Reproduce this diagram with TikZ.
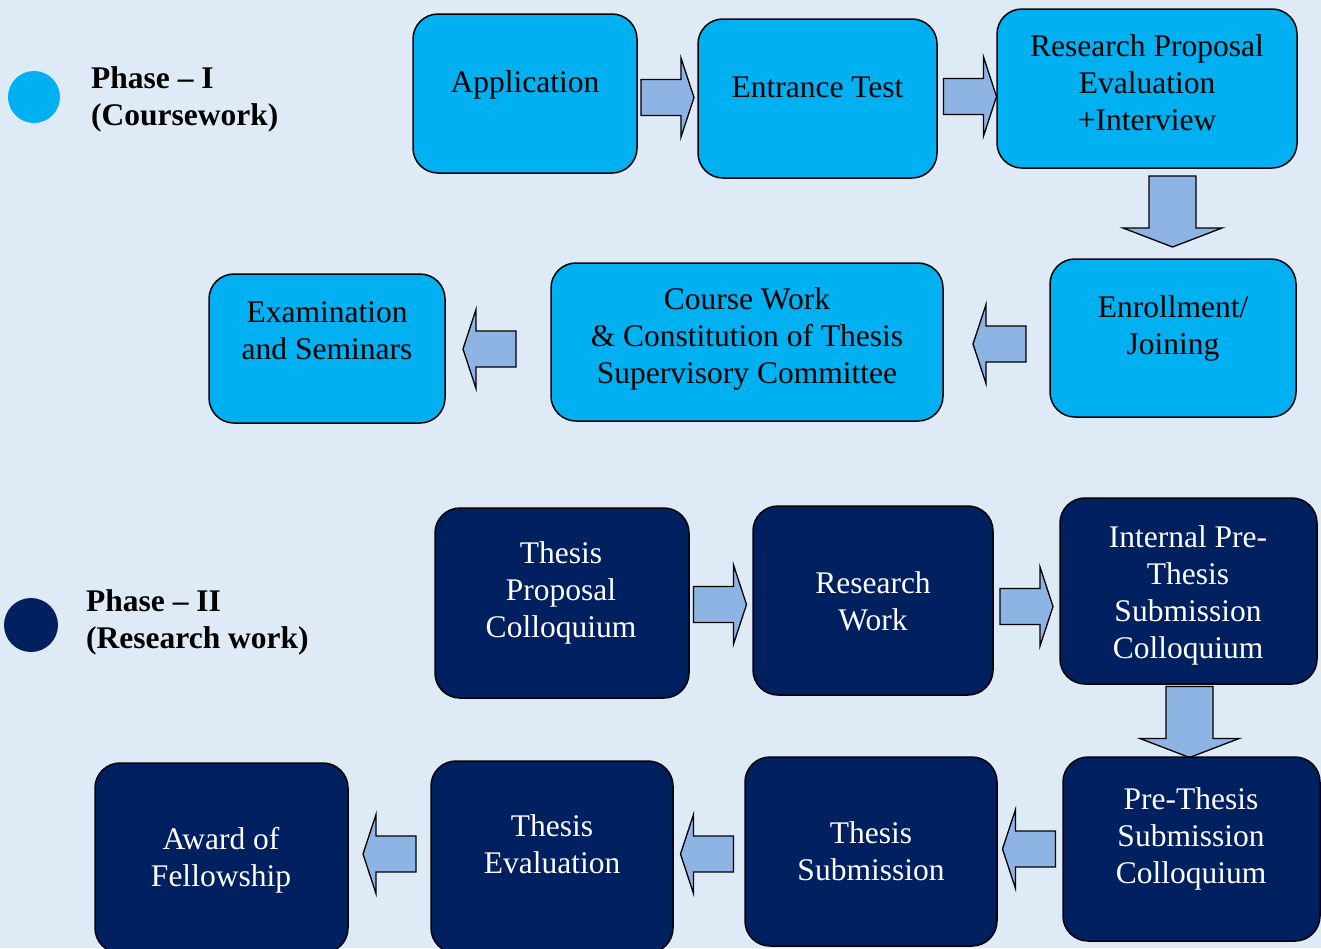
\documentclass[tikz,border=0pt]{standalone}
\usepackage{fontspec}
\setmainfont{Liberation Serif}
\definecolor{bgc}{HTML}{DEEBF7}
\definecolor{lightb}{HTML}{00B0F0}
\definecolor{darkb}{HTML}{002060}
\definecolor{arrc}{HTML}{8EB4E3}
\newcommand\harr[2]{\draw[barrow,shift={(#1)},rotate=#2]
  (-26.5,-18) -- (13.5,-18) -- (13.5,-39.5) -- (26.5,0) -- (13.5,39.5) -- (13.5,18) -- (-26.5,18) -- cycle;}
\newcommand\varr[1]{\draw[barrow,shift={(#1)}]
  (-23.5,-35.5) -- (-23.5,16.5) -- (-49.5,16.5) -- (0,35.5) -- (49.5,16.5) -- (23.5,16.5) -- (23.5,-35.5) -- cycle;}
\begin{document}
\begin{tikzpicture}[x=1pt,y=-1pt,
  box/.style={draw=black,line width=1.5pt,rounded corners=25pt,inner sep=0pt},
  lbox/.style={box,fill=lightb},
  dbox/.style={box,fill=darkb},
  txt/.style={font=\fontsize{31.5}{37}\selectfont,align=center,inner sep=0pt},
  ltxt/.style={txt,text=black},
  dtxt/.style={txt,text=white},
  barrow/.style={draw=black,line width=1.3pt,fill=arrc,line join=miter},
  phase/.style={font=\fontsize{31.5}{37}\selectfont\bfseries,align=left,anchor=west,inner sep=0pt}
]
\fill[bgc] (0,0) rectangle (1321,948);
\useasboundingbox (0,0) rectangle (1321,948);

% legend
\fill[lightb] (34,97) circle (26pt);
\node[phase] (p1) at (91,99) {Phase -- I\\(Coursework)};
\fill[darkb] (31,625) circle (27pt);
\node[phase] (p2) at (86,622) {Phase -- II\\(Research work)};

% row 1
\node[lbox,minimum width=224pt,minimum height=159pt] (app) at (525,93.5) {};
\node[ltxt] (appt) at (525,85) {Application};
\node[lbox,minimum width=239pt,minimum height=159pt] (ent) at (817.5,98.5) {};
\node[ltxt] (entt) at (817.5,87) {Entrance Test};
\node[lbox,minimum width=300pt,minimum height=159pt] (rpe) at (1147,88.5) {};
\node[ltxt] (rpet) at (1147,83) {Research Proposal\\Evaluation\\+Interview};

\coordinate (a1) at (667.5,97.5); \harr{a1}{0}
\coordinate (a2) at (970,96.5); \harr{a2}{0}
\coordinate (a3) at (1172.5,211.5); \varr{a3}

% row 2
\node[lbox,minimum width=246pt,minimum height=158pt] (enr) at (1173,338) {};
\node[ltxt] (enrt) at (1173,328) {Enrollment/\\Joining};
\node[lbox,minimum width=392pt,minimum height=158pt] (cw) at (747,342) {};
\node[ltxt] (cwt) at (747,339) {Course Work\\\& Constitution of Thesis\\Supervisory Committee};
\node[lbox,minimum width=236pt,minimum height=149pt] (exam) at (327,348.5) {};
\node[ltxt] (examt) at (327,330.5) {Examination\\and Seminars};

\coordinate (a4) at (999.5,344); \harr{a4}{180}
\coordinate (a5) at (489.5,349); \harr{a5}{180}

% row 3
\node[dbox,minimum width=254pt,minimum height=190pt] (tpc) at (562,603) {};
\node[dtxt] (tpct) at (561,593) {Thesis\\Proposal\\Colloquium};
\node[dbox,minimum width=240pt,minimum height=189pt] (rw) at (873,600.5) {};
\node[dtxt] (rwt) at (873,601.5) {Research\\Work};
\node[dbox,minimum width=257pt,minimum height=186pt] (ipt) at (1188.5,591) {};
\node[dtxt] (iptt) at (1188,595.5) {Internal Pre-\\Thesis\\Submission\\Colloquium};

\coordinate (a6) at (720,604.5); \harr{a6}{0}
\coordinate (a7) at (1026.5,606.5); \harr{a7}{0}
\coordinate (a8) at (1189.5,722); \varr{a8}

% row 4
\node[dbox,minimum width=257pt,minimum height=184pt] (ptc) at (1191.5,849) {};
\node[dtxt] (ptct) at (1191,839) {Pre-Thesis\\Submission\\Colloquium};
\node[dbox,minimum width=252pt,minimum height=189pt] (ts) at (871,851.5) {};
\node[dtxt] (tst) at (871,851.5) {Thesis\\Submission};
\node[dbox,minimum width=242pt,minimum height=192pt] (te) at (552,857) {};
\node[dtxt] (tet) at (552,844.5) {Thesis\\Evaluation};
\node[dbox,minimum width=253pt,minimum height=190pt] (aw) at (221.5,858) {};
\node[dtxt] (awt) at (221,860.5) {Award of\\Fellowship};

\coordinate (a9) at (1029,849); \harr{a9}{180}
\coordinate (a10) at (707,854); \harr{a10}{180}
\coordinate (a11) at (389.5,854); \harr{a11}{180}
\end{tikzpicture}
\end{document}
